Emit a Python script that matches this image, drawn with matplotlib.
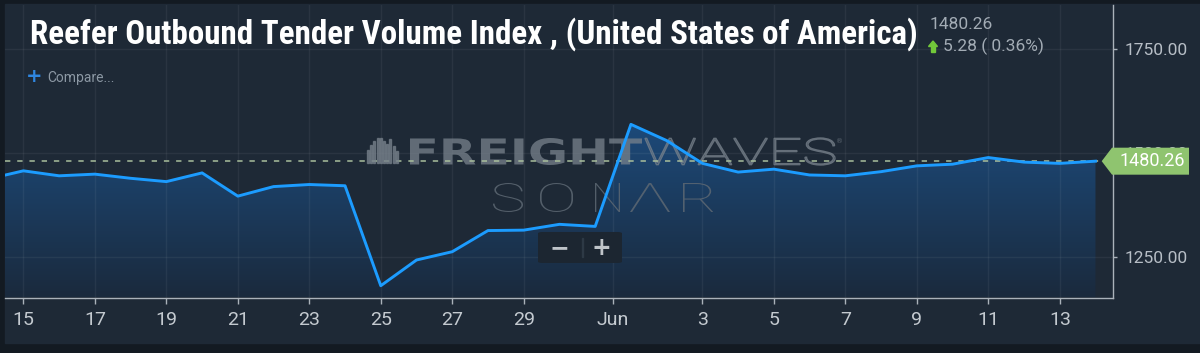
"""
Reefer Outbound Tender Volume Index (SONAR style dark chart) -> out.png
"""
import matplotlib
matplotlib.use("Agg")
import matplotlib.pyplot as plt
import matplotlib.dates as mdates
from matplotlib import font_manager
from matplotlib.font_manager import FontProperties
from matplotlib.textpath import TextPath
from matplotlib.patches import PathPatch, Polygon, FancyBboxPatch, Rectangle
from matplotlib.transforms import Affine2D, ScaledTranslation
import numpy as np
import pandas as pd

# ── data ──────────────────────────────────────────────────────────────
dates = pd.date_range("2019-05-14", "2019-06-14", freq="D")
values = [1437, 1457, 1445, 1449, 1439, 1431, 1452, 1396, 1419, 1424,
          1421, 1180, 1242, 1262, 1313, 1314, 1328, 1323,
          1569, 1530, 1475, 1454, 1461, 1447, 1445, 1455, 1469, 1473,
          1489, 1478, 1474.98, 1480.26]
last_value = 1480.26
change = 5.28
change_pct = 0.36

title = "Reefer Outbound Tender Volume Index , (United States of America)"
y_ticks = [1250, 1500, 1750]
x_tick_dates = ["2019-05-15", "2019-05-17", "2019-05-19", "2019-05-21",
                "2019-05-23", "2019-05-25", "2019-05-27", "2019-05-29",
                "2019-05-31 12:00", "2019-06-03", "2019-06-05", "2019-06-07",
                "2019-06-09", "2019-06-11", "2019-06-13"]
x_tick_labels = ["15", "17", "19", "21", "23", "25", "27", "29", "Jun",
                 "3", "5", "7", "9", "11", "13"]

# ── style ─────────────────────────────────────────────────────────────
W, H = 1200, 353
BG_OUT = "#131a22"
BG = "#1e2936"
LINE = "#1c9cff"
AXIS = "#aab2ba"
TICK_TXT = "#c4cad0"

avail = {f.name for f in font_manager.fontManager.ttflist}
UI_FONT = "Roboto" if "Roboto" in avail else "DejaVu Sans"
if "Roboto Condensed" in avail:
    title_prop = FontProperties(family="Roboto Condensed", weight="bold")
elif "Liberation Sans Narrow" in avail:
    title_prop = FontProperties(family="Liberation Sans Narrow", weight="bold")
else:
    title_prop = FontProperties(family="DejaVu Sans", weight="bold",
                                stretch="condensed")

plt.rcParams.update({"font.family": UI_FONT})

fig = plt.figure(figsize=(W / 100, H / 100), dpi=100, facecolor=BG_OUT)
fig.add_artist(Rectangle((5 / W, 1 - 343 / H), 1, 339 / H,
                         transform=fig.transFigure, color=BG, zorder=-10))


def fx(px):
    return px / W


def fy(py):
    return 1 - py / H


ax = fig.add_axes([fx(5), fy(297.5), (1113 - 5) / W, (297.5 - 5) / H])
ax.set_facecolor(BG)

x = mdates.date2num(dates)
y = np.array(values)

# gradient fill under the line
ylo, yhi = 1151.6, 1856.8
poly = ax.fill_between(x, y, ylo, color="none", lw=0)
grad = np.linspace(0, 1, 256).reshape(-1, 1)
cmap = matplotlib.colors.LinearSegmentedColormap.from_list(
    "sonar", ["#1a2a3d", "#1d4c7e"])
img = ax.imshow(grad, cmap=cmap, aspect="auto", origin="lower",
                extent=[x[0], x[-1], ylo, 1600], zorder=1)
img.set_clip_path(poly.get_paths()[0], transform=ax.transData)

ax.plot(x, y, color=LINE, lw=2.1, zorder=4, solid_joinstyle="round")
ax.axhline(last_value, color="#a9bf9c", lw=1.1, ls=(0, (3.5, 4.5)), zorder=3.5)

ax.set_xlim(x[1] - 0.515, x[-1] + 0.49)
ax.set_ylim(ylo, yhi)

tick_pos = mdates.date2num(pd.to_datetime(x_tick_dates, format="mixed"))
ax.set_xticks(tick_pos)
ax.set_xticklabels(x_tick_labels)
ax.set_yticks(y_ticks)
ax.set_yticklabels([f"{v:.2f}" for v in y_ticks])
ax.yaxis.tick_right()
ax.grid(True, color="white", alpha=0.055, lw=1)
ax.set_axisbelow(False)
for gl in ax.get_xgridlines() + ax.get_ygridlines():
    gl.set_zorder(2)

for s in ("left", "top"):
    ax.spines[s].set_visible(False)
for s in ("right", "bottom"):
    ax.spines[s].set_color(AXIS)
    ax.spines[s].set_linewidth(1)
ax.tick_params(axis="x", colors=AXIS, labelcolor=TICK_TXT, length=4,
               width=1, pad=6, labelsize=14)
ax.tick_params(axis="y", colors=AXIS, labelcolor="#b7bec6", length=3,
               width=1, pad=5, labelsize=12.5)

# ── last-value badge ──────────────────────────────────────────────────
anchor = ScaledTranslation(1, last_value, ax.get_yaxis_transform())
badge = np.array([[-11.3, 0], [-1, 13.5], [76, 13.5], [76, -13.5],
                  [-1, -13.5]]) / 100
ax.add_patch(Polygon(badge, closed=True, fc="#8fc46f", ec="none",
                     transform=fig.dpi_scale_trans + anchor, clip_on=False,
                     zorder=10))
ax.annotate(f"{last_value:.2f}", xy=(1, last_value),
            xycoords=ax.get_yaxis_transform(), xytext=(39.5 * 0.72, 0),
            textcoords="offset points", ha="center", va="center",
            color="white", fontsize=13, zorder=11, annotation_clip=False)


# ── watermark ─────────────────────────────────────────────────────────
def path_text(s, box, prop, **kw):
    x0, y0, x1, y1 = box
    tp = TextPath((0, 0), s, size=1, prop=prop)
    e = tp.get_extents()
    tr = (Affine2D().translate(-e.x0, -e.y0)
          .scale((x1 - x0) / e.width / W, (y1 - y0) / e.height / H)
          .translate(fx(x0), fy(y1)) + fig.transFigure)
    ax.add_artist(PathPatch(tp, transform=tr, clip_on=False, **kw))


wm = "#78828c"
path_text("FREIGHT", (410, 138, 642, 165),
          FontProperties(family="DejaVu Sans", weight="bold"),
          fc=wm, ec="none", alpha=0.75, zorder=3)
path_text("WAVES", (645, 138, 835, 165),
          FontProperties(family=UI_FONT, weight="light"),
          fc="none", ec=wm, lw=1.0, alpha=0.8, zorder=3)
path_text("\u00ae", (837, 138, 842, 143), FontProperties(family="DejaVu Sans"),
          fc=wm, ec="none", alpha=0.7, zorder=3)
letters = ["S", "O", "N", "\u039b", "R"]
boxes = [(493, 523), (540, 573), (595, 620), (630, 670), (683, 713)]
for ch, (a, b) in zip(letters, boxes):
    path_text(ch, (a, 183, b, 212), FontProperties(family=UI_FONT, weight="light"),
              fc="#5d6873", ec="none", alpha=0.85, zorder=3)
bar_tops = [150, 145, 141, 138, 138, 141, 144, 139, 146, 151]
for i, t in enumerate(bar_tops):
    fig.add_artist(Rectangle((fx(367 + i * 3.2), fy(163)), 2 / W, (163 - t) / H,
                             transform=fig.transFigure, color=wm, alpha=0.7,
                             zorder=3))

# ── zoom buttons ──────────────────────────────────────────────────────
fig.add_artist(FancyBboxPatch((fx(538), fy(263)), 84 / W, 31 / H,
                              boxstyle="round,pad=0,rounding_size=0.004",
                              transform=fig.transFigure, fc="#1c2631",
                              ec="none", zorder=20))
fig.add_artist(Rectangle((fx(581.5), fy(257)), 1 / W, 19 / H,
                         transform=fig.transFigure, color="#2d3945", zorder=21))
fig.text(fx(559), fy(248), "\u2212", color="#bfc4c9", fontsize=17,
         fontweight="bold", ha="center", va="center", zorder=22,
         family="DejaVu Sans")
fig.text(fx(601), fy(248), "+", color="#bfc4c9", fontsize=17,
         fontweight="bold", ha="center", va="center", zorder=22,
         family="DejaVu Sans")

# ── header ────────────────────────────────────────────────────────────
t = fig.text(fx(30), fy(43.5), title, color="white", fontproperties=title_prop,
             fontsize=24, va="baseline", ha="left")
r = fig.canvas.get_renderer()
wpx = t.get_window_extent(r).width
t.set_fontsize(24 * 888 / wpx)

fig.text(fx(930), fy(24.5), f"{last_value:.2f}", color="#a3acb5",
         fontsize=12.5, va="center", ha="left")
fig.text(fx(943), fy(46), f"{change:.2f} ( {change_pct:.2f}%)",
         color="#a3acb5", fontsize=12.5, va="center", ha="left")
fig.add_artist(Polygon([[fx(928.5), fy(46.5)], [fx(933), fy(41)],
                        [fx(937.5), fy(46.5)]], closed=True,
                       transform=fig.transFigure, color="#72c83a", zorder=5))
fig.add_artist(Rectangle((fx(931.3), fy(52)), 3.4 / W, 6 / H,
                         transform=fig.transFigure, color="#72c83a", zorder=5))

fig.text(fx(34.5), fy(77), "+", color="#2f86e0", fontsize=14,
         fontweight="bold", ha="center", va="center", family="DejaVu Sans")
fig.text(fx(47.5), fy(78), "Compare...", color="#8c98a4", fontsize=10,
         ha="left", va="center")

fig.savefig("out.png", dpi=100, facecolor=BG_OUT)
